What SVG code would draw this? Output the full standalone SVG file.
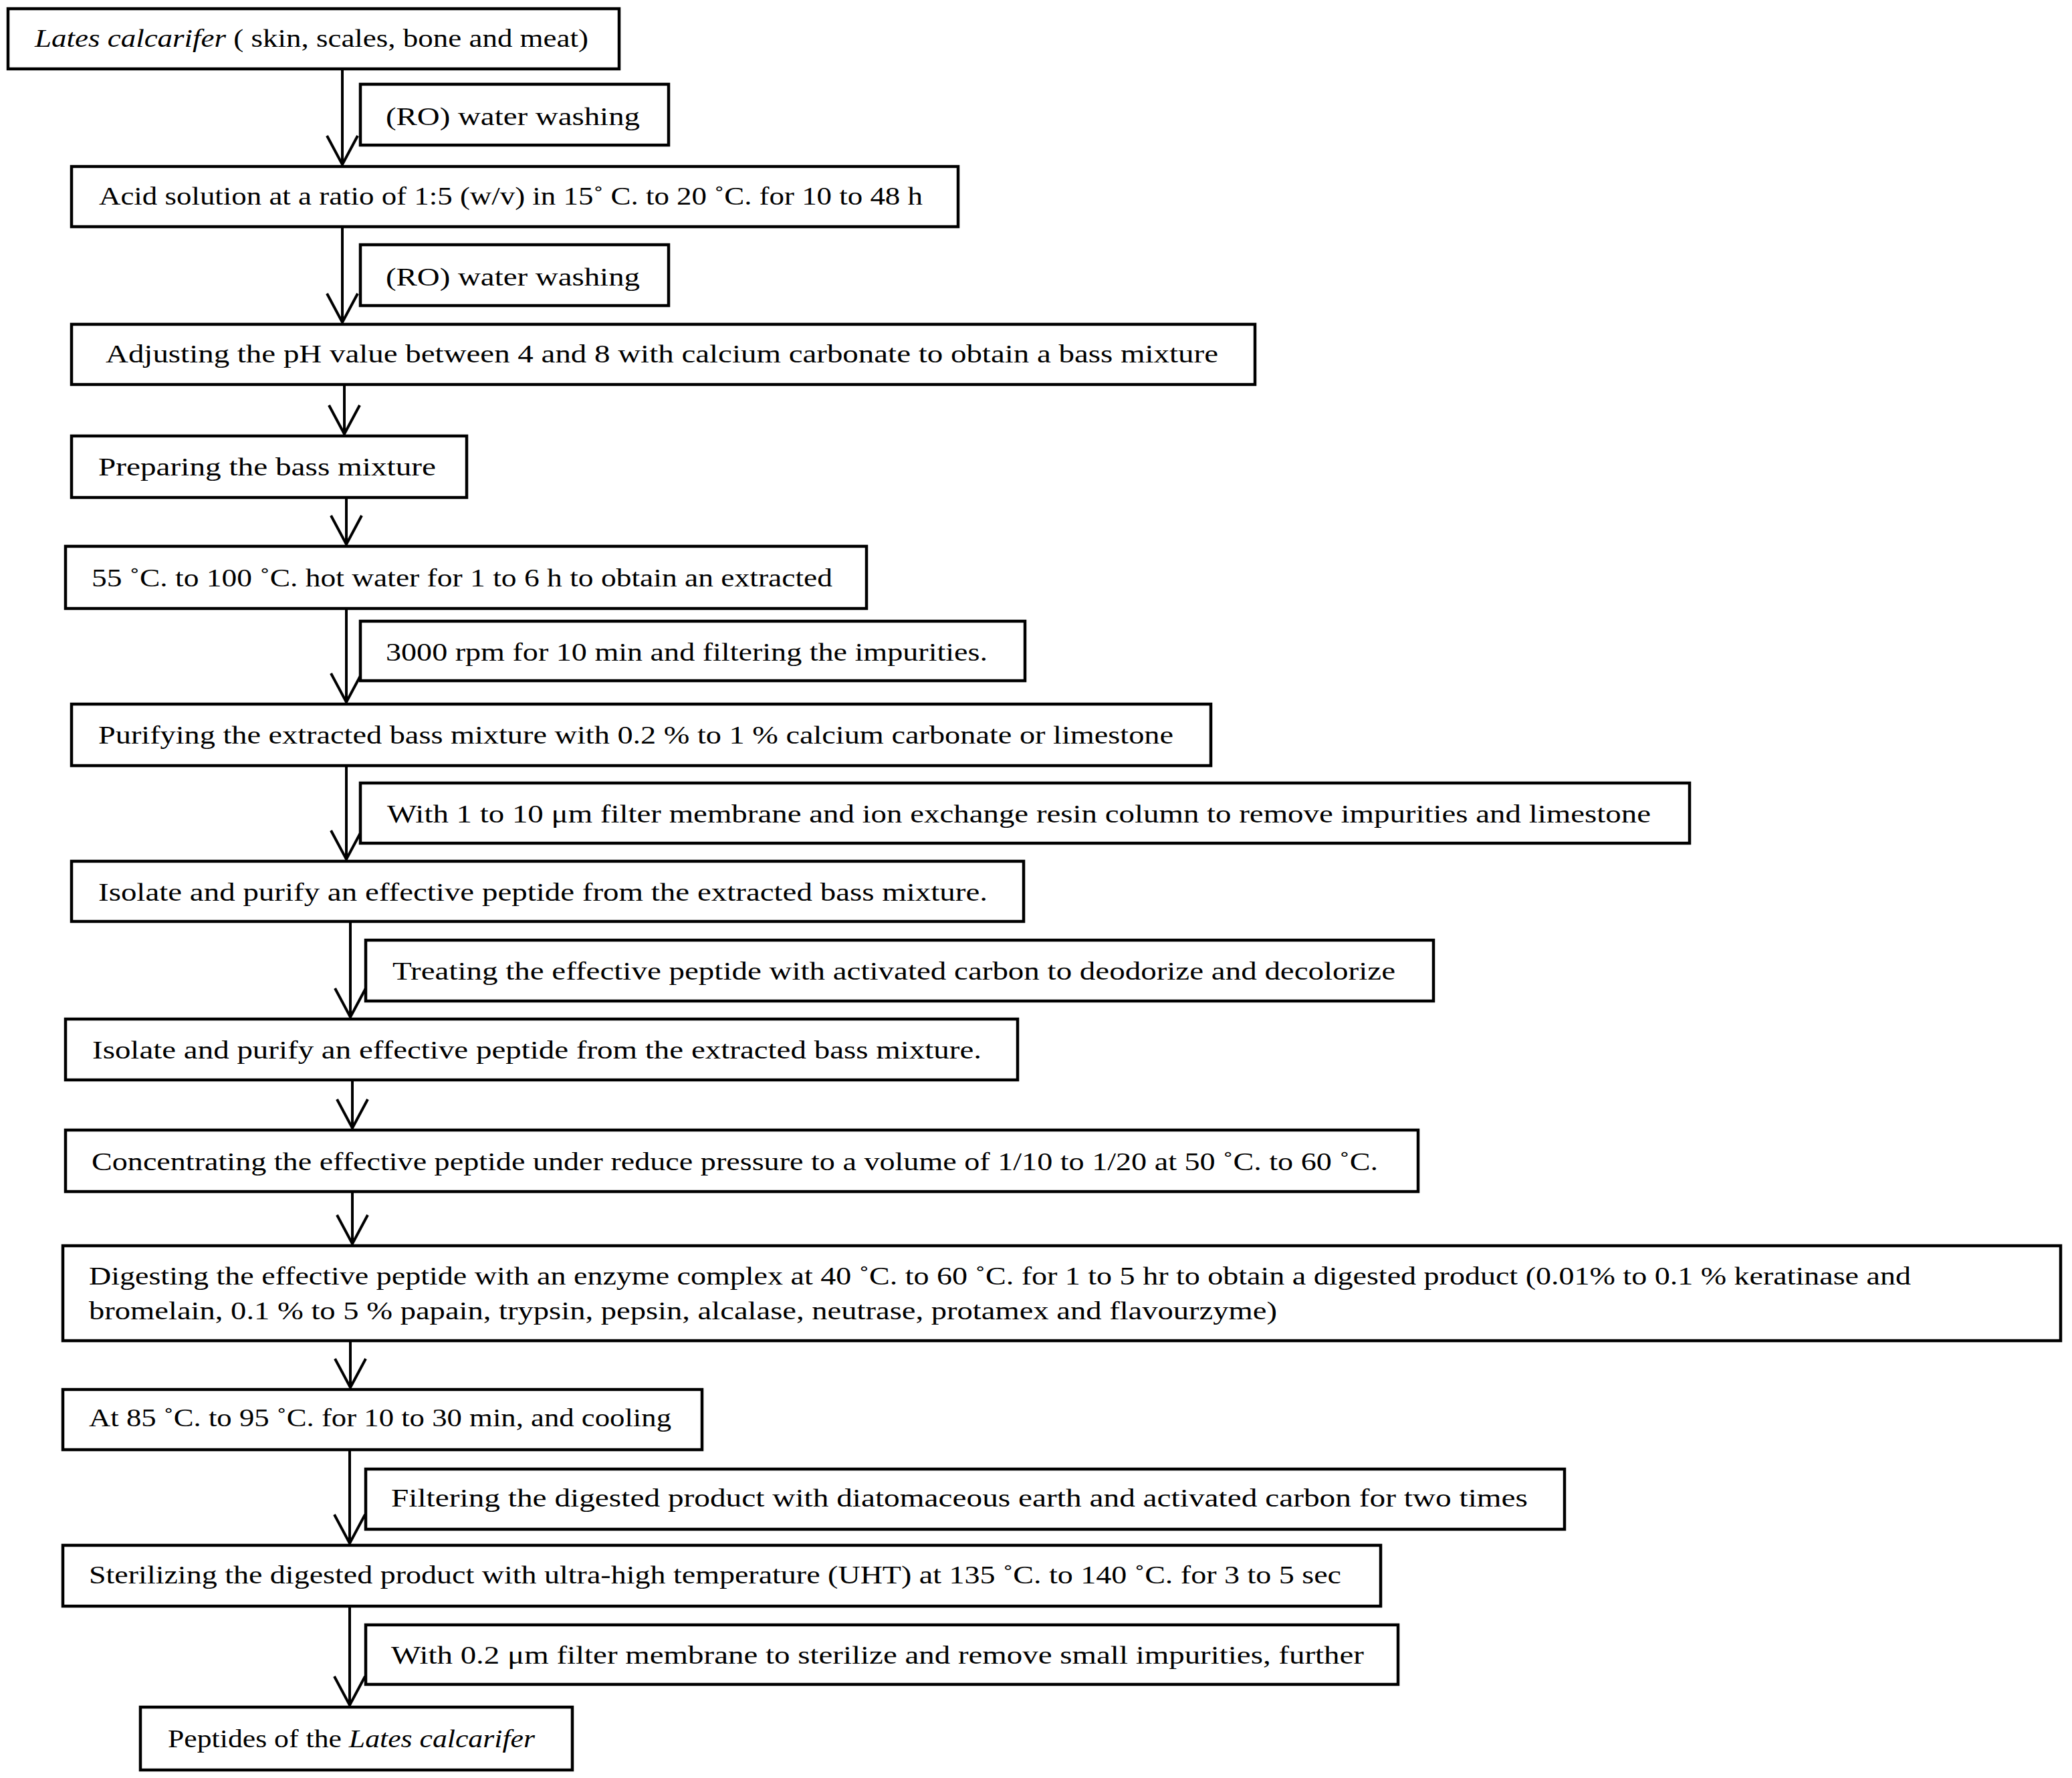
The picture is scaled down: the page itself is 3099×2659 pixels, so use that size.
<svg xmlns="http://www.w3.org/2000/svg" width="3099" height="2659" viewBox="0 0 3099 2659">
<style>
.box{fill:#fff;stroke:#000;stroke-width:4.5}
.t{font-family:"Liberation Serif","Times New Roman",serif;font-size:37px;fill:#000}
.i{font-style:italic}
.c{fill:none;stroke:#000;stroke-width:4}
</style>
<defs>
<marker id="v" markerUnits="userSpaceOnUse" markerWidth="60" markerHeight="60" refX="0" refY="0" viewBox="-50 -30 60 60" orient="auto" overflow="visible">
<path d="M-43,-23 L0,0 L-43,23" fill="none" stroke="#000" stroke-width="4" stroke-linejoin="miter"/>
</marker>
</defs>
<rect width="3099" height="2659" fill="#fff"/>
<g id="connectors">
<line class="c" x1="512" y1="103" x2="512" y2="246" marker-end="url(#v)"/>
<line class="c" x1="512" y1="340" x2="512" y2="482" marker-end="url(#v)"/>
<line class="c" x1="515" y1="575" x2="515" y2="649" marker-end="url(#v)"/>
<line class="c" x1="518" y1="745" x2="518" y2="814" marker-end="url(#v)"/>
<line class="c" x1="518" y1="910" x2="518" y2="1050" marker-end="url(#v)"/>
<line class="c" x1="518" y1="1145" x2="518" y2="1285" marker-end="url(#v)"/>
<line class="c" x1="524" y1="1378" x2="524" y2="1521" marker-end="url(#v)"/>
<line class="c" x1="527" y1="1615" x2="527" y2="1687" marker-end="url(#v)"/>
<line class="c" x1="527" y1="1782" x2="527" y2="1860" marker-end="url(#v)"/>
<line class="c" x1="524" y1="2005" x2="524" y2="2075" marker-end="url(#v)"/>
<line class="c" x1="523" y1="2168" x2="523" y2="2308" marker-end="url(#v)"/>
<line class="c" x1="523" y1="2402" x2="523" y2="2550" marker-end="url(#v)"/>
</g>
<g id="n1"><rect class="box" x="12" y="13" width="914" height="90"/><text class="t" x="52" y="70" textLength="828" lengthAdjust="spacingAndGlyphs"><tspan class="i">Lates calcarifer</tspan>  ( skin, scales, bone and meat)</text></g>
<g id="s1"><rect class="box" x="539" y="126" width="461" height="91"/><text class="t" x="577" y="187" textLength="380" lengthAdjust="spacingAndGlyphs">(RO) water washing</text></g>
<g id="n2"><rect class="box" x="107" y="249" width="1326" height="90"/><text class="t" x="148" y="306" textLength="1232" lengthAdjust="spacingAndGlyphs">Acid solution at a ratio of 1:5 (w/v) in 15˚ C. to 20 ˚C. for 10 to 48 h</text></g>
<g id="s2"><rect class="box" x="539" y="366" width="461" height="91"/><text class="t" x="577" y="427" textLength="380" lengthAdjust="spacingAndGlyphs">(RO) water washing</text></g>
<g id="n3"><rect class="box" x="107" y="485" width="1770" height="90"/><text class="t" x="158" y="542" textLength="1664" lengthAdjust="spacingAndGlyphs">Adjusting the pH  value between 4 and 8 with calcium carbonate to obtain a bass mixture</text></g>
<g id="n4"><rect class="box" x="107" y="652" width="591" height="92"/><text class="t" x="147" y="711" textLength="505" lengthAdjust="spacingAndGlyphs">Preparing  the bass mixture</text></g>
<g id="n5"><rect class="box" x="98" y="817" width="1198" height="93"/><text class="t" x="137" y="877" textLength="1108" lengthAdjust="spacingAndGlyphs">55 ˚C.  to 100 ˚C.  hot water for 1 to 6 h to obtain an extracted</text></g>
<g id="s3"><rect class="box" x="539" y="929" width="994" height="89"/><text class="t" x="577" y="988" textLength="900" lengthAdjust="spacingAndGlyphs">3000 rpm  for 10 min and filtering the impurities.</text></g>
<g id="n6"><rect class="box" x="107" y="1053" width="1704" height="92"/><text class="t" x="147" y="1112" textLength="1608" lengthAdjust="spacingAndGlyphs">Purifying the extracted bass mixture with 0.2 % to 1 % calcium carbonate or limestone</text></g>
<g id="s4"><rect class="box" x="539" y="1171" width="1988" height="90"/><text class="t" x="579" y="1230" textLength="1890" lengthAdjust="spacingAndGlyphs">With 1 to 10 μm filter membrane and ion exchange resin column to remove impurities  and limestone</text></g>
<g id="n7"><rect class="box" x="107" y="1288" width="1424" height="90"/><text class="t" x="147" y="1347" textLength="1330" lengthAdjust="spacingAndGlyphs">Isolate and purify  an effective peptide  from the extracted bass mixture.</text></g>
<g id="s5"><rect class="box" x="547" y="1406" width="1597" height="91"/><text class="t" x="587" y="1465" textLength="1500" lengthAdjust="spacingAndGlyphs">Treating the effective peptide  with activated carbon to deodorize and decolorize</text></g>
<g id="n8"><rect class="box" x="98" y="1524" width="1424" height="91"/><text class="t" x="138" y="1583" textLength="1330" lengthAdjust="spacingAndGlyphs">Isolate and purify  an effective peptide  from the extracted bass mixture.</text></g>
<g id="n9"><rect class="box" x="98" y="1690" width="2023" height="92"/><text class="t" x="137" y="1750" textLength="1924" lengthAdjust="spacingAndGlyphs">Concentrating the effective peptide  under reduce pressure  to a volume of 1/10 to 1/20 at 50 ˚C. to 60 ˚C.</text></g>
<g id="n10"><rect class="box" x="94" y="1863" width="2988" height="142"/><text class="t" x="133" y="1921" textLength="2725" lengthAdjust="spacingAndGlyphs">Digesting the effective peptide  with an enzyme complex at 40 ˚C. to 60 ˚C. for 1 to 5 hr to obtain a digested product (0.01% to 0.1 % keratinase and</text><text class="t" x="133" y="1973" textLength="1777" lengthAdjust="spacingAndGlyphs">bromelain, 0.1 % to 5 % papain,  trypsin, pepsin,  alcalase, neutrase, protamex and flavourzyme)</text></g>
<g id="n11"><rect class="box" x="94" y="2078" width="956" height="90"/><text class="t" x="133" y="2133" textLength="871" lengthAdjust="spacingAndGlyphs">At 85 ˚C. to 95 ˚C. for 10 to 30 min, and cooling</text></g>
<g id="s6"><rect class="box" x="547" y="2197" width="1793" height="90"/><text class="t" x="585" y="2253" textLength="1700" lengthAdjust="spacingAndGlyphs">Filtering the digested  product with diatomaceous earth and activated carbon for two times</text></g>
<g id="n12"><rect class="box" x="94" y="2311" width="1971" height="91"/><text class="t" x="133" y="2368" textLength="1873" lengthAdjust="spacingAndGlyphs">Sterilizing the digested  product with ultra-high temperature (UHT) at 135 ˚C. to 140 ˚C. for 3 to 5 sec</text></g>
<g id="s7"><rect class="box" x="547" y="2430" width="1544" height="89"/><text class="t" x="585" y="2488" textLength="1455" lengthAdjust="spacingAndGlyphs">With 0.2 μm filter membrane to sterilize and remove small impurities,  further</text></g>
<g id="n13"><rect class="box" x="210" y="2553" width="646" height="94"/><text class="t" x="251" y="2613" textLength="549" lengthAdjust="spacingAndGlyphs">Peptides  of the <tspan class="i">Lates calcarifer</tspan></text></g>
</svg>
